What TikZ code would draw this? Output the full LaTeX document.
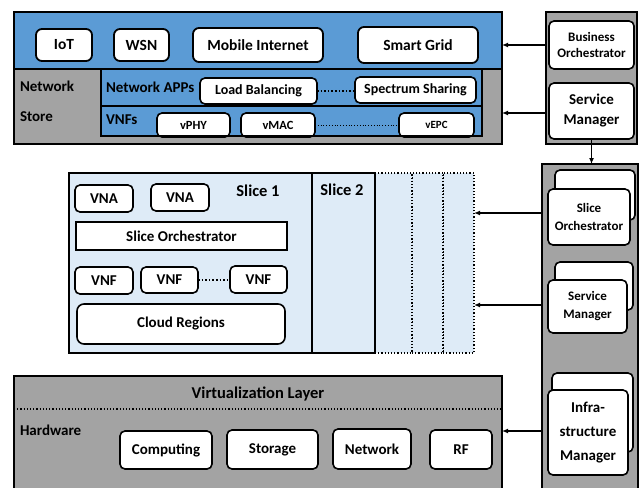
\documentclass[tikz,border=0pt]{standalone}
\usepackage{fontspec}
\setmainfont{Carlito}
\usetikzlibrary{arrows.meta}
\definecolor{appblue}{RGB}{91,155,213}
\definecolor{boxgray}{RGB}{163,163,163}
\definecolor{slicebl}{RGB}{222,235,247}
\newcommand{\fs}[1]{\fontsize{#1}{#1}\selectfont\bfseries}
\newcommand{\bx}[7]{\node[#7, minimum width={(#4-#2)*1pt}, minimum height={(#5-#3)*1pt}] (#1) at ({(#2+#4)/2},{(#3+#5)/2}) {#6};}
\tikzset{
  cont/.style={draw=black, line width=1.2pt, inner sep=0pt, outer sep=0pt},
  rbox/.style={draw=black, fill=white, line width=1.6pt, rounded corners=5pt, inner sep=0pt, outer sep=0pt, align=center, font=\fs{15}},
  sbox/.style={rbox, font=\fs{13}},
  lbl/.style={inner sep=0pt, outer sep=0pt, font=\fs{15}},
  arr/.style={line width=1.2pt, -{Latex[length=6pt,width=5pt]}},
  dotl/.style={line width=1.6pt, dotted},
}
\begin{document}
\begin{tikzpicture}[x=1pt,y=-1pt]
\useasboundingbox (0,0) rectangle (642,487);
\clip (0,0) rectangle (642,487);
% ---- top application / network store block
\bx{store}{14}{69}{502}{144}{}{cont, fill=boxgray}
\bx{inner}{101}{69}{482}{136}{}{cont, fill=appblue}
\draw[line width=1.2pt] (inner.west |- 0,106) -- (inner.east |- 0,106);
\bx{app}{14}{12}{502}{69}{}{cont, fill=appblue}
\bx{iot}{36}{29}{92}{61}{IoT}{rbox, line width=1.8pt, rounded corners=6pt, font=\fs{15.5}}
\bx{wsn}{114}{29}{169}{61}{WSN}{rbox, line width=1.8pt, rounded corners=6pt, font=\fs{15.5}}
\bx{mob}{193}{28}{323}{62}{Mobile Internet}{rbox, line width=1.8pt, rounded corners=6pt, font=\fs{15.5}}
\bx{sg}{358}{27}{478}{63}{Smart Grid}{rbox, line width=1.8pt, rounded corners=6pt, font=\fs{15.5}}
\node[lbl, anchor=west] (netl) at (20,86) {Network};
\node[lbl, anchor=west] (storel) at (20,117) {Store};
\node[lbl, anchor=west] (napps) at (106,87) {Network APPs};
\node[lbl, anchor=west] (vnfs) at (106,120) {VNFs};
\bx{lb}{200}{78}{317}{104}{\raisebox{-3pt}{Load Balancing}}{rbox, font=\fs{14}}
\bx{ss}{355}{77}{476}{103}{Spectrum Sharing}{rbox, font=\fs{14}}
\draw[dotl] (lb.east) -- (ss.west |- lb.east);
\bx{vphy}{157}{113}{230}{137}{\raisebox{-3pt}{vPHY}}{rbox, font=\fs{12.5}}
\bx{vmac}{241}{113}{315}{137}{\raisebox{-3pt}{vMAC}}{rbox, font=\fs{12.5}}
\bx{vepc}{399}{113}{474}{137}{\raisebox{-3pt}{vEPC}}{rbox, font=\fs{11}}
\draw[line width=0.8pt, dotted] (vmac.east) -- (vepc.west);
\draw[line width=1.2pt] (inner.south west) -- (inner.south east);
% ---- upper right column
\bx{col1}{546}{12}{637}{144}{}{cont, fill=boxgray}
\bx{bo}{549}{21}{634}{69}{Business\\[3pt]Orchestrator}{sbox}
\bx{sm}{549}{83}{634}{139}{Service\\[5pt]Manager}{rbox}
\draw[arr] (col1.west |- 0,45) -- (app.east |- 0,45);
\draw[arr] (col1.west |- 0,113) -- (store.east |- 0,113);
% ---- lower right column
\bx{col2}{542}{164}{638}{500}{}{cont, fill=boxgray}
\draw[arr] (sm.south) -- (sm.south |- col2.north);
\bx{sob}{555}{170}{635}{220}{}{rbox}
\bx{so}{548}{189}{630}{245}{Slice\\[5pt]Orchestrator}{sbox}
\bx{smb}{555}{262}{633}{310}{}{rbox}
\bx{sm2}{548}{280}{627}{333}{Service\\[5pt]Manager}{sbox}
\bx{imb}{552}{373}{633}{452}{}{rbox}
\bx{im}{548}{390}{628}{475}{Infra-\\[9pt]structure\\[9pt]Manager}{rbox}
% ---- slices
\bx{d3}{443}{173}{474}{353}{}{cont, fill=slicebl, dotted}
\bx{d2}{412}{173}{443}{353}{}{cont, fill=slicebl, dotted}
\bx{d1}{375}{173}{412}{353}{}{cont, fill=slicebl, dotted}
\bx{s2}{312}{173}{375}{353}{}{cont, fill=slicebl}
\bx{s1}{69}{173}{312}{353}{}{cont, fill=slicebl}
\node[lbl, font=\fs{16.5}] (s1t) at (258,191) {Slice 1};
\node[lbl, font=\fs{16.5}] (s2t) at (342,190) {Slice 2};
\bx{vna1}{75}{185}{133}{212}{VNA}{rbox}
\bx{vna2}{151}{184}{209}{211}{VNA}{rbox}
\bx{sorch}{76}{222}{287}{250}{Slice Orchestrator}{rbox, rounded corners=0pt, line width=1.4pt}
\bx{vnf1}{75}{267}{133}{294}{VNF}{rbox}
\bx{vnf2}{141}{267}{198}{293}{VNF}{rbox}
\bx{vnf3}{230}{266}{287}{293}{VNF}{rbox}
\draw[dotl] (vnf2.east) -- (vnf3.west |- vnf2.east);
\bx{cloud}{77}{304}{285}{344}{Cloud Regions}{rbox, rounded corners=7pt}
\draw[arr] (col2.west |- 0,213) -- (d3.east |- 0,213);
\draw[arr] (col2.west |- 0,305) -- (d3.east |- 0,305);
% ---- hardware
\bx{hw}{14}{376}{502}{500}{}{cont, fill=boxgray}
\node[lbl, font=\fs{16.5}] (virt) at (258,394) {Virtualization Layer};
\draw[line width=1.2pt, dotted] (hw.west |- 0,409) -- (hw.east |- 0,409);
\node[lbl, anchor=west] (hwl) at (20,430) {Hardware};
\bx{comp}{120}{431}{212}{469}{Computing}{rbox}
\bx{stor}{227}{430}{318}{469}{Storage}{rbox}
\bx{netw}{333}{429}{411}{469}{Network}{rbox}
\bx{rf}{430}{430}{492}{469}{RF}{rbox}
\draw[arr] (col2.west |- 0,431) -- (hw.east |- 0,431);
\end{tikzpicture}
\end{document}
